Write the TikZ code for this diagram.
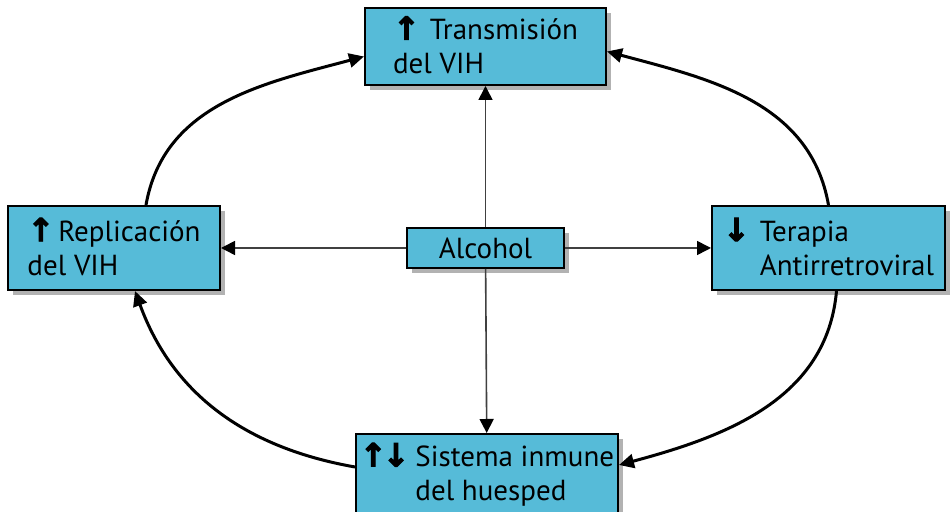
\documentclass[tikz,border=0pt]{standalone}
\usepackage{fontspec}
\setmainfont{PT Sans}
\newfontfamily\flechas[FakeBold=3]{DejaVu Sans Bold}
\usetikzlibrary{arrows.meta,shadows}
\definecolor{celeste}{RGB}{86,187,216}
\newcommand{\sube}{\smash{\flechas\fontsize{16}{17}\selectfont\char"2191}}
\newcommand{\baja}{\smash{\flechas\fontsize{16}{17}\selectfont\char"2193}}
\tikzstyle{caja} = [draw=black, line width=1pt, fill=celeste, align=left, inner sep=0pt,
  font=\fontsize{14.5}{17}\selectfont,
  drop shadow={shadow xshift=2.5pt, shadow yshift=-2.5pt, opacity=0.3, fill=black}]
\tikzstyle{ciclo} = [line width=1.5pt, -{Triangle[length=7.5pt,width=7pt]}]
\tikzstyle{efecto} = [line width=0.8pt, draw=black!75, -{Triangle[length=7pt,width=7pt,color=black]}]

\begin{document}
\begin{tikzpicture}[x=0.5pt,y=-0.5pt]
  \useasboundingbox (0,0) rectangle (950,512);
  \node (trans) at (485.5,46.5) [caja, minimum width=120.5pt, minimum height=38.5pt]
    {\sube\hspace{5pt}Transmisión\\del VIH};
  \node (repl) at (114,248) [caja, minimum width=106pt, minimum height=42pt]
    {\sube\hspace{2pt}Replicación\\del VIH};
  \node (terap) at (828.5,248) [caja, minimum width=116.5pt, minimum height=42pt]
    {\baja\hspace{5pt}Terapia\\\hphantom{\baja\hspace{5pt}}Antirretroviral};
  \node (sist) at (487,476) [caja, minimum width=131pt, minimum height=42pt]
    {\sube\hspace{-2pt}\baja\hspace{3pt}Sistema inmune\\\hphantom{\sube\hspace{-2pt}\baja\hspace{3pt}}del huesped};
  \node (alc) at (485.5,248) [caja, minimum width=78.5pt, minimum height=20pt] {Alcohol};
  \draw [efecto] (alc) to (trans);
  \draw [efecto] (alc) to (sist);
  \draw [efecto] (alc) to (repl);
  \draw [efecto] (alc) to (terap);
  \draw [ciclo] ([xshift=16pt]repl.north) to [out=80, in=195] ([yshift=-5pt]trans.west);
  \draw [ciclo] (terap.north) to [out=100, in=-15] ([yshift=-2.5pt]trans.east);
  \draw [ciclo] ([xshift=4pt]terap.south) to [out=-95, in=15] ([yshift=5.5pt]sist.east);
  \draw [ciclo] ([yshift=4.5pt]sist.west) to [out=170, in=-70] ([xshift=10.5pt]repl.south);
\end{tikzpicture}
\end{document}
